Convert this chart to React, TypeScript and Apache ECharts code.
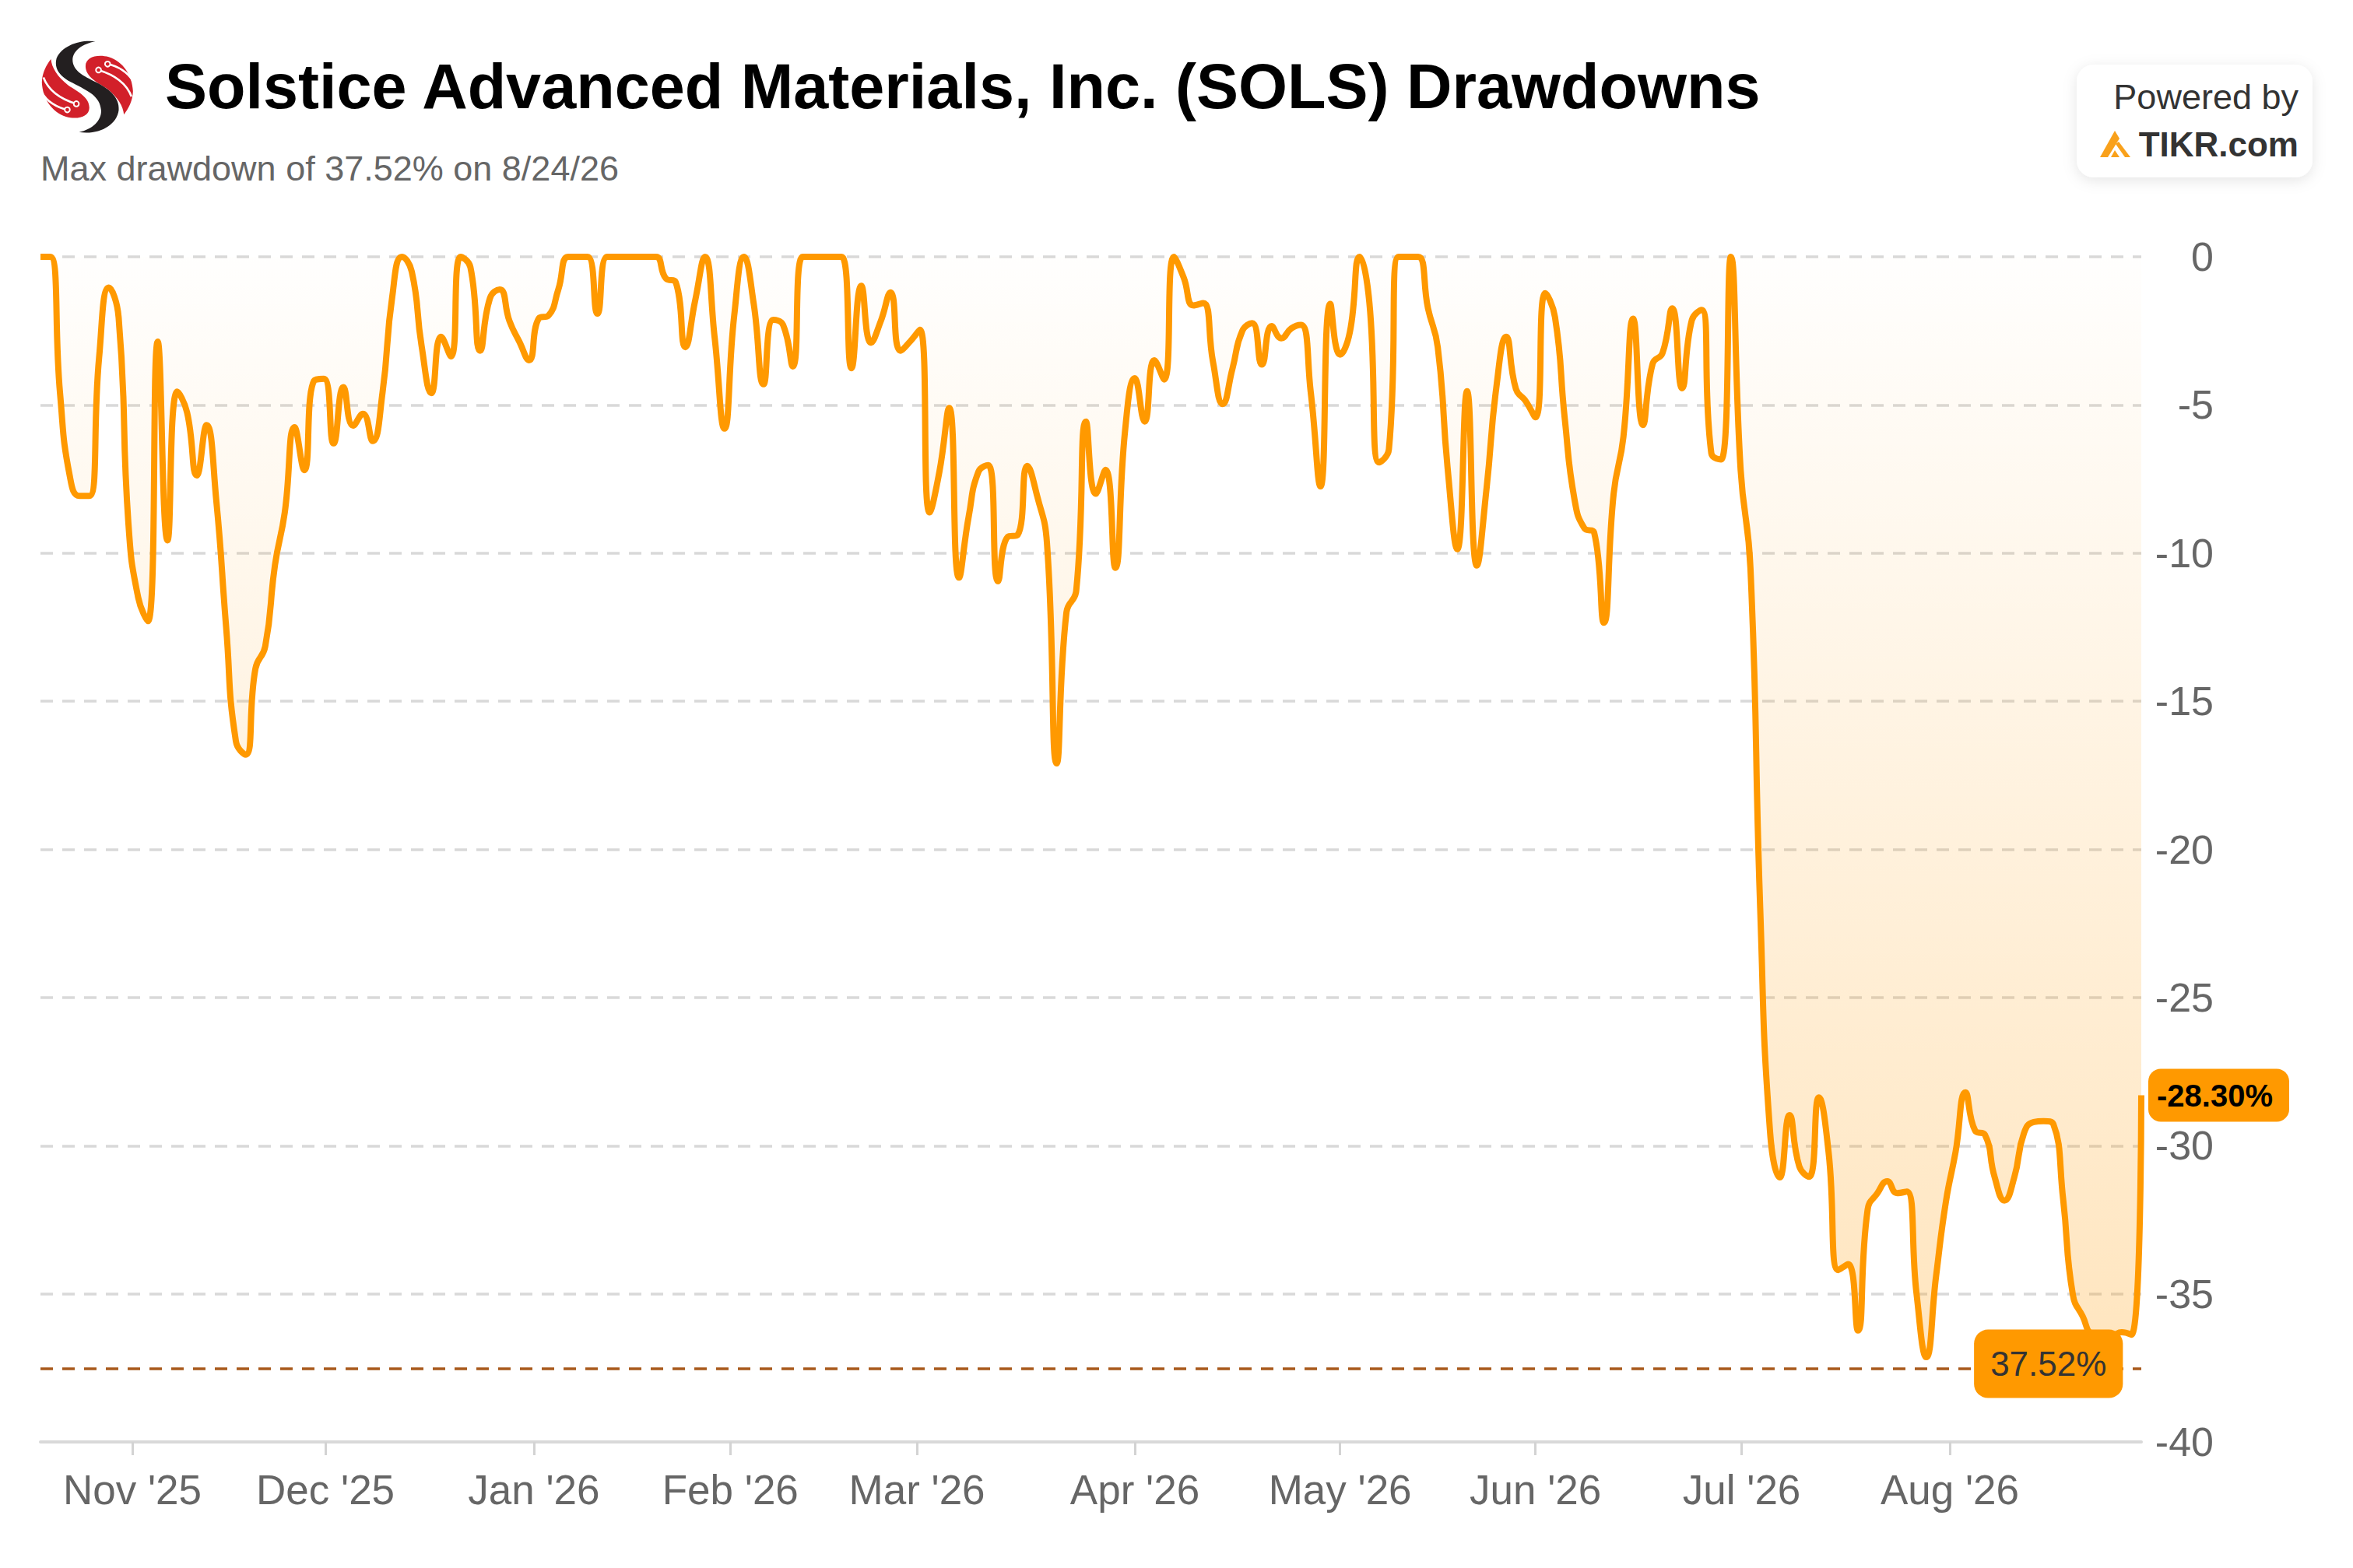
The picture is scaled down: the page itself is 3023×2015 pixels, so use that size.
import { useEffect, useRef } from 'react'
import * as echarts from 'echarts'

const TITLE = 'Solstice Advanced Materials, Inc. (SOLS) Drawdowns'
const SUBTITLE = 'Max drawdown of 37.52% on 8/24/26'
const MAX_DRAWDOWN = -37.52
const MAX_BADGE_SESSION = 205.5

// one value per trading session
const drawdown = [
  0, 0, -4.6, -7.4, -8.07, -8.07, -3.4, -1.04, -2.05, -9.0,
  -11.5, -12.3, -2.86, -9.57, -4.55, -5.25, -7.38, -5.68, -8.25, -12.5,
  -16.35, -16.8, -13.9, -13.15, -10.4, -8.63, -5.75, -7.2, -4.18, -4.12,
  -6.3, -4.4, -5.7, -5.3, -6.22, -4.6, -1.35, 0, -0.5, -3.0,
  -4.6, -2.7, -3.36, 0, -0.35, -3.17, -1.4, -1.1, -2.17, -2.86,
  -3.49, -2.08, -1.98, -1.1, 0, 0, 0, -1.92, 0, 0,
  0, 0, 0, 0, -0.73, -0.85, -3.05, -1.48, 0, -2.74,
  -5.8, -1.98, 0, -1.6, -4.3, -2.13, -2.3, -3.7, 0, 0,
  0, 0, 0, -3.76, -0.98, -2.9, -2.17, -1.2, -3.17, -2.86,
  -2.46, -8.63, -7.25, -5.1, -10.83, -8.76, -7.25, -7.03, -10.95, -9.45,
  -9.39, -7.06, -8.07, -9.64, -17.1, -12.0, -11.27, -5.56, -8, -7.19,
  -10.5, -5.87, -4.1, -5.56, -3.49, -4.14, 0, -0.7, -1.64, -1.56,
  -3.55, -4.97, -3.76, -2.5, -2.24, -3.64, -2.34, -2.75, -2.42, -2.3,
  -4.57, -7.75, -1.59, -3.3, -2.55, 0, -1.54, -6.94, -6.5, 0,
  0, 0, -1.74, -3.05, -7.1, -9.87, -4.54, -10.42, -7.8, -4.4,
  -2.7, -4.46, -4.87, -5.42, -1.23, -2.04, -5.47, -8.2, -9.16, -9.3,
  -12.35, -8, -6.08, -2.09, -5.68, -3.6, -3.25, -1.74, -4.44, -2.14,
  -1.79, -6.64, -6.84, 0, -7.2, -10.5, -22, -29.5, -31.07, -28.97,
  -30.7, -31.05, -28.37, -30.23, -34.2, -34, -36.24, -32.15, -31.6, -31.2,
  -31.6, -31.55, -35, -37.14, -34.4, -31.9, -30.2, -28.2, -29.5, -29.63,
  -31.07, -31.85, -31.07, -29.57, -29.2, -29.17, -29.27, -31.8, -35.04, -35.76,
  -36.36, -36.4, -36.4, -36.3, -36.38, -28.3,
]

const monthTicks = [9.4, 29.16, 50.5, 70.6, 89.7, 112, 133, 153, 174.1, 195.4]
const monthLabels = ["Nov '25", "Dec '25", "Jan '26", "Feb '26", "Mar '26", "Apr '26", "May '26", "Jun '26", "Jul '26", "Aug '26"]

const FONT = '"Liberation Sans", Arial, sans-serif'
const ORANGE = '#ff9900'
const RED = '#d2202a'

// company mark, drawn in a 510 unit square
const S_BODY = 'M278 70C220 62 150 85 128 135C118 175 140 205 190 230C250 262 295 280 300 335C303 375 265 410 215 420C290 432 360 395 368 335C372 285 330 250 270 222C225 200 190 180 190 140C192 105 230 78 278 70Z'
const S_WING = 'M240 165C240 130 285 118 330 130C385 148 420 200 423 262C422 300 405 330 388 352C385 320 365 285 320 250C285 228 240 205 240 165Z'
const S_TRACE = 'M325 157C365 165 405 190 422 222M290 180C340 195 395 225 417 282'
echarts.graphic.registerShape('solsBody', echarts.graphic.extendPath(S_BODY, {}))
echarts.graphic.registerShape('solsWing', echarts.graphic.extendPath(S_WING, {}))
echarts.graphic.registerShape('solsTrace', echarts.graphic.extendPath(S_TRACE, {}))

function wing(rotation: number) {
  return {
    type: 'group',
    rotation,
    originX: 247,
    originY: 245,
    children: [
      { type: 'solsWing', style: { fill: RED } },
      { type: 'solsTrace', style: { fill: 'none', stroke: '#fff', lineWidth: 8 } },
      { type: 'circle', shape: { cx: 325, cy: 157, r: 10 }, style: { fill: RED, stroke: '#fff', lineWidth: 6 } },
      { type: 'circle', shape: { cx: 290, cy: 180, r: 10 }, style: { fill: RED, stroke: '#fff', lineWidth: 6 } },
    ],
  }
}

export default function App() {
  const elRef = useRef<HTMLDivElement>(null)

  useEffect(() => {
    if (!elRef.current) return
    document.body.style.margin = '0'
    const chart = echarts.init(elRef.current, null, { renderer: 'svg' })
    chart.setOption({
      animation: false,
      backgroundColor: '#fff',
      textStyle: { fontFamily: FONT },
      title: [
        {
          text: TITLE,
          left: 212,
          top: 70,
          padding: 0,
          textStyle: { fontFamily: FONT, fontSize: 81, fontWeight: 'bold', color: '#000' },
        },
        {
          text: SUBTITLE,
          left: 52,
          top: 194,
          padding: 0,
          textStyle: { fontFamily: FONT, fontSize: 45, fontWeight: 'normal', color: '#666' },
        },
      ],
      grid: { left: 52, right: 272, top: 330, bottom: 162 },
      xAxis: {
        type: 'value',
        min: 0,
        max: drawdown.length - 1,
        splitLine: { show: false },
        axisLine: { onZero: false, lineStyle: { color: '#d9d9d9', width: 4 } },
        axisTick: { customValues: monthTicks, length: 17, lineStyle: { color: '#d3d3d3', width: 3 } },
        axisLabel: {
          customValues: monthTicks,
          formatter: (v: number) => monthLabels[monthTicks.indexOf(v)],
          fontFamily: FONT,
          fontSize: 53,
          color: '#666',
          margin: 35,
        },
      },
      yAxis: {
        type: 'value',
        position: 'right',
        min: -40,
        max: 0,
        interval: 5,
        axisLine: { show: false },
        axisTick: { show: false },
        axisLabel: { fontFamily: FONT, fontSize: 52, color: '#666', align: 'right', margin: 93 },
        splitLine: { lineStyle: { color: '#d9d9d9', width: 3.5, type: [16, 12] } },
      },
      series: [
        {
          type: 'line',
          data: drawdown.map((v, i) => [i, v]),
          showSymbol: false,
          smooth: 0.5,
          lineStyle: { color: ORANGE, width: 8 },
          itemStyle: { color: ORANGE },
          areaStyle: {
            color: new echarts.graphic.LinearGradient(0, 0, 0, 1, [
              { offset: 0, color: 'rgba(255,153,0,0.01)' },
              { offset: 1, color: 'rgba(255,153,0,0.36)' },
            ]),
          },
          endLabel: {
            show: true,
            formatter: () => `${drawdown[drawdown.length - 1].toFixed(2)}%`,
            fontFamily: FONT,
            fontSize: 40,
            fontWeight: 'bold',
            color: '#000',
            backgroundColor: ORANGE,
            borderRadius: 16,
            padding: [14, 21, 14, 11],
            distance: 9,
          },
          markLine: {
            silent: true,
            symbol: 'none',
            label: { show: false },
            lineStyle: { color: '#a8591c', width: 3.5, type: [16, 12] },
            data: [{ yAxis: MAX_DRAWDOWN }],
          },
          markPoint: {
            silent: true,
            symbol: 'rect',
            symbolSize: 1,
            itemStyle: { color: ORANGE },
            label: {
              show: true,
              position: 'inside',
              offset: [0, -6],
              formatter: `${Math.abs(MAX_DRAWDOWN).toFixed(2)}%`,
              fontFamily: FONT,
              fontSize: 44,
              color: '#333',
              backgroundColor: ORANGE,
              borderRadius: 18,
              lineHeight: 50,
              padding: [19, 21],
            },
            data: [{ coord: [MAX_BADGE_SESSION, MAX_DRAWDOWN] }],
          },
        },
      ],
      graphic: [
        {
          type: 'group',
          x: 30,
          y: 30,
          scaleX: 1 / 3,
          scaleY: 1 / 3,
          children: [
            wing(0),
            wing(Math.PI),
            { type: 'solsBody', style: { fill: '#231f20' } },
          ],
        },
        {
          type: 'rect',
          shape: { x: 2668, y: 83, width: 303, height: 145, r: 22 },
          style: { fill: '#fff', shadowBlur: 18, shadowColor: 'rgba(0,0,0,0.1)', shadowOffsetY: 4 },
        },
        {
          type: 'text',
          style: { x: 2953, y: 124, text: 'Powered by', align: 'right', verticalAlign: 'middle', fontFamily: FONT, fontSize: 45, fill: '#333' },
        },
        {
          type: 'text',
          style: { x: 2953, y: 185, text: 'TIKR.com', align: 'right', verticalAlign: 'middle', fontFamily: FONT, fontSize: 44, fontWeight: 'bold', fill: '#333' },
        },
        { type: 'polygon', shape: { points: [[2698, 202], [2717, 168], [2723, 178], [2708, 202]] }, style: { fill: '#f9a11b' } },
        { type: 'polygon', shape: { points: [[2722, 182], [2737, 202], [2730, 202], [2718, 185]] }, style: { fill: '#f9a11b' } },
        { type: 'polygon', shape: { points: [[2712, 202], [2717, 193], [2723, 202]] }, style: { fill: '#f9a11b' } },
      ],
    })
    return () => chart.dispose()
  }, [])

  return <div ref={elRef} style={{ width: 3023, height: 2015 }} />
}
